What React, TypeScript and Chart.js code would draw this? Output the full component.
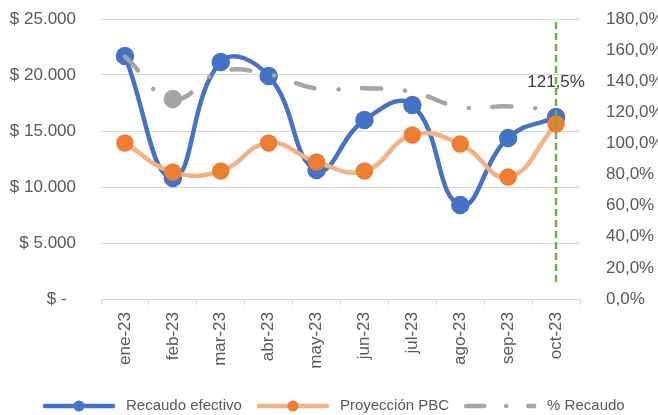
import React, { useEffect, useRef } from 'react';
import { Chart, registerables } from 'chart.js';

Chart.register(...registerables);

const months = ['ene-23', 'feb-23', 'mar-23', 'abr-23', 'may-23', 'jun-23', 'jul-23', 'ago-23', 'sep-23', 'oct-23'];
const recaudoEfectivo = [21700, 10800, 21160, 19910, 11520, 15980, 17320, 8390, 14380, 16250];
const proyeccionPBC = [13930, 11340, 11430, 13930, 12230, 11430, 14640, 13840, 10890, 15630];
const pctRecaudo = [155.8, 128.6, 146.2, 144.4, 135.3, 135.5, 133.1, 123.4, 123.8, 121.5];
const pctMarkerIndex = 1; // highlighted point on % Recaudo
const labelIndex = 9;
const labelText = '121,5%';
const markerLineRange = [178, 10]; // % axis values of the green dashed marker line

const FONT = '"Liberation Sans", Arial, sans-serif';
const TICK_COLOR = '#595959';

const fmtMoney = (v: number) => {
  if (v === 0) return '$ -  ';
  return '$ ' + Math.round(v).toString().replace(/\B(?=(\d{3})+(?!\d))/g, '.');
};
const fmtPct = (v: number) => v.toFixed(1).replace('.', ',') + '%';

const overlayPlugin = {
  id: 'overlay',
  afterDatasetsDraw(chart: any) {
    const ctx = chart.ctx;
    const xs = chart.scales.x;
    const y1 = chart.scales.y1;
    const x = xs.getPixelForValue(labelIndex);
    ctx.save();
    const py = y1.getPixelForValue(pctRecaudo[labelIndex]);
    ctx.font = `17px ${FONT}`;
    ctx.fillStyle = '#404040';
    ctx.textAlign = 'center';
    ctx.textBaseline = 'middle';
    ctx.fillText(labelText, x, py - 28);
    ctx.strokeStyle = '#70AD47';
    ctx.lineWidth = 2.5;
    ctx.setLineDash([7, 4]);
    ctx.beginPath();
    ctx.moveTo(x, y1.getPixelForValue(markerLineRange[0]));
    ctx.lineTo(x, y1.getPixelForValue(markerLineRange[1]));
    ctx.stroke();
    ctx.restore();
  },
};

const legendPlugin = {
  id: 'customLegend',
  afterDraw(chart: any) {
    const ctx = chart.ctx;
    const y = 406;
    let x = 43;
    const sample = 72;
    ctx.save();
    ctx.font = `15px ${FONT}`;
    ctx.textBaseline = 'middle';
    ctx.textAlign = 'left';
    chart.data.datasets.forEach((ds: any) => {
      ctx.save();
      ctx.strokeStyle = ds.borderColor;
      ctx.lineWidth = ds.borderWidth;
      ctx.lineCap = 'round';
      ctx.setLineDash(ds.legendDash || []);
      ctx.beginPath();
      ctx.moveTo(x + 2, y);
      ctx.lineTo(x + sample - 2, y);
      ctx.stroke();
      ctx.setLineDash([]);
      if (ds.legendMarker) {
        ctx.fillStyle = ds.pointBackgroundColor;
        ctx.beginPath();
        ctx.arc(x + sample / 2, y, 5.5, 0, Math.PI * 2);
        ctx.fill();
      }
      ctx.restore();
      x += sample + 11;
      ctx.fillStyle = TICK_COLOR;
      ctx.fillText(ds.label, x, y);
      x += ctx.measureText(ds.label).width + 15;
    });
    ctx.restore();
  },
};

export default function App() {
  const ref = useRef<HTMLCanvasElement>(null);
  useEffect(() => {
    document.body.style.margin = '0';
    if (!ref.current) return;
    const chart = new Chart(ref.current, {
      type: 'line',
      data: {
        labels: months,
        datasets: [
          {
            label: 'Recaudo efectivo',
            data: recaudoEfectivo,
            yAxisID: 'y',
            borderColor: '#4472C4',
            backgroundColor: '#4472C4',
            pointBackgroundColor: '#4472C4',
            pointBorderColor: '#4472C4',
            borderWidth: 4.5,
            pointRadius: 7,
            tension: 0.45,
            order: 3,
            legendMarker: true,
          } as any,
          {
            label: 'Proyección PBC',
            data: proyeccionPBC,
            yAxisID: 'y',
            borderColor: '#F4B183',
            backgroundColor: '#ED7D31',
            pointBackgroundColor: '#ED7D31',
            pointBorderColor: '#ED7D31',
            borderWidth: 4.5,
            pointRadius: 6.5,
            tension: 0.45,
            order: 2,
            legendMarker: true,
          } as any,
          {
            label: '% Recaudo',
            data: pctRecaudo,
            yAxisID: 'y1',
            borderColor: '#A5A5A5',
            backgroundColor: '#A5A5A5',
            pointBackgroundColor: '#A5A5A5',
            pointBorderColor: '#A5A5A5',
            borderWidth: 4.5,
            borderDash: [19, 24, 0.1, 23.5],
            legendDash: [18, 22, 0.1, 22],
            borderCapStyle: 'round',
            pointRadius: pctRecaudo.map((_, i) => (i === pctMarkerIndex ? 7 : 0)),
            tension: 0.45,
            order: 1,
            legendMarker: false,
          } as any,
        ],
      },
      options: {
        animation: false,
        responsive: false,
        maintainAspectRatio: false,
        layout: { padding: { top: 19, left: 0, right: 0, bottom: 0 } },
        plugins: {
          legend: { display: false },
          tooltip: { enabled: false },
        },
        scales: {
          x: {
            offset: true,
            grid: {
              offset: true,
              drawOnChartArea: false,
              drawTicks: true,
              tickLength: 6,
              color: '#D9D9D9',
            },
            border: { display: true, color: '#D9D9D9', width: 1 },
            ticks: {
              color: TICK_COLOR,
              font: { family: FONT, size: 17 },
              minRotation: 90,
              maxRotation: 90,
              padding: 7,
              autoSkip: false,
            },
            afterFit: (s: any) => {
              s.height = 116;
              s.paddingLeft = 0;
              s.paddingRight = 0;
              s.paddingTop = 0;
              s.paddingBottom = 0;
            },
          },
          y: {
            position: 'left',
            min: 0,
            max: 25000,
            grid: { color: '#D9D9D9', drawTicks: false, lineWidth: 1 },
            border: { display: false },
            ticks: {
              stepSize: 5000,
              color: TICK_COLOR,
              font: { family: FONT, size: 17 },
              padding: 25,
              callback: (v: any) => fmtMoney(Number(v)),
            },
            afterFit: (s: any) => {
              s.width = 101;
              s.paddingTop = 0;
              s.paddingBottom = 0;
            },
          },
          y1: {
            position: 'right',
            min: 0,
            max: 180,
            grid: { display: false, drawOnChartArea: false },
            border: { display: false },
            ticks: {
              stepSize: 20,
              color: TICK_COLOR,
              font: { family: FONT, size: 17 },
              padding: 18,
              callback: (v: any) => fmtPct(Number(v)),
            },
            afterFit: (s: any) => {
              s.width = 78;
              s.paddingTop = 0;
              s.paddingBottom = 0;
            },
          },
        },
      },
      plugins: [overlayPlugin, legendPlugin],
    });
    return () => chart.destroy();
  }, []);
  return (
    <div style={{ width: 658, height: 415 }}>
      <canvas ref={ref} width={658} height={415} style={{ display: 'block' }} />
    </div>
  );
}
